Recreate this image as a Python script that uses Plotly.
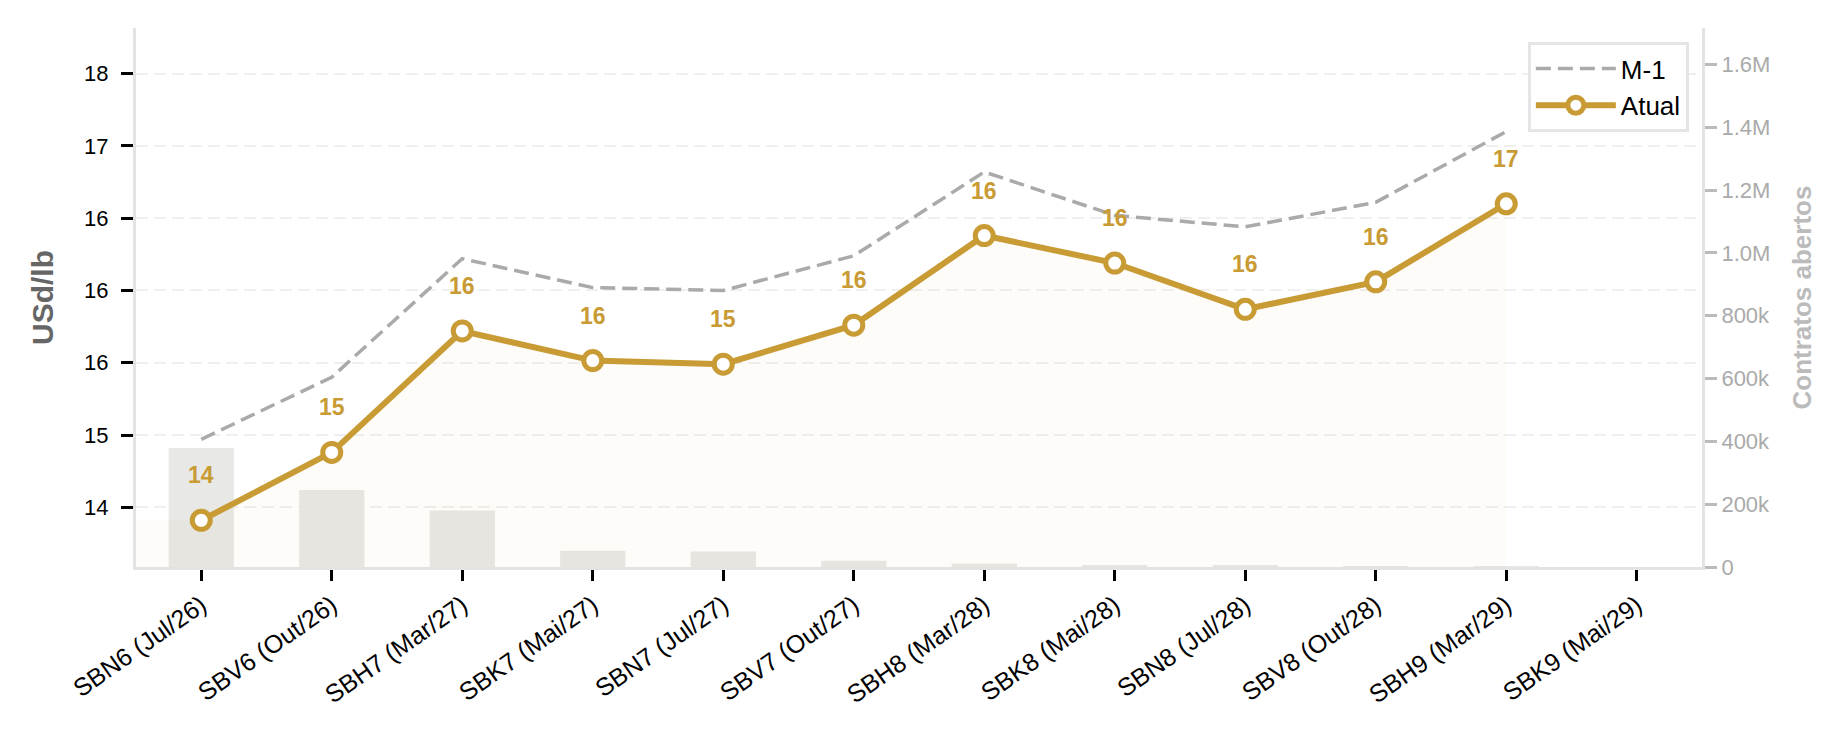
import plotly.graph_objects as go

# ---------------- data ----------------
categories = ["SBN6 (Jul/26)", "SBV6 (Out/26)", "SBH7 (Mar/27)", "SBK7 (Mai/27)",
              "SBN7 (Jul/27)", "SBV7 (Out/27)", "SBH8 (Mar/28)", "SBK8 (Mai/28)",
              "SBN8 (Jul/28)", "SBV8 (Out/28)", "SBH9 (Mar/29)", "SBK9 (Mai/29)"]
atual = [14.41, 14.88, 15.72, 15.515, 15.49, 15.76, 16.38, 16.19, 15.87, 16.06, 16.60]
m1 = [14.97, 15.40, 16.22, 16.02, 16.00, 16.24, 16.82, 16.52, 16.44, 16.61, 17.10]
open_interest = [379000, 245000, 180000, 51500, 49000, 20000, 10000, 4500, 4000, 1000, 300, 0]
price_ticks = [14.5, 15.0, 15.5, 16.0, 16.5, 17.0, 17.5]
oi_ticks = [0, 200000, 400000, 600000, 800000, 1000000, 1200000, 1400000, 1600000]
oi_tick_labels = ["0", "200k", "400k", "600k", "800k", "1.0M", "1.2M", "1.4M", "1.6M"]

# ---------------- style ----------------
GOLD = "#C89B34"
GREY_LINE = "#AAAAAA"
SPINE = "#E3E3E3"
FONT = "Liberation Sans"
x_range = [-0.5, len(categories) - 0.5]
price_range = [14.087, 17.816]
oi_range = [0, 1716000]

x_idx = list(range(len(categories)))
x_line = x_idx[:len(atual)]

fig = go.Figure()

# open interest bars (primary y, right side)
fig.add_trace(go.Bar(
    x=x_idx, y=open_interest, yaxis="y", width=0.5,
    marker=dict(color="#E8E8E6", line=dict(width=0)),
    showlegend=False, hoverinfo="skip"))

# light fill under current curve
fig.add_trace(go.Scatter(
    x=[x_range[0]] + x_line, y=[atual[0]] + atual, yaxis="y2",
    mode="lines", line=dict(width=0), fill="tozeroy",
    fillcolor="rgba(200,155,52,0.03)", showlegend=False, hoverinfo="skip"))

fig.add_trace(go.Scatter(
    x=x_line, y=m1, yaxis="y2", name="M-1", mode="lines",
    line=dict(color=GREY_LINE, width=3.5, dash="15px,7px")))

fig.add_trace(go.Scatter(
    x=x_line, y=atual, yaxis="y2", name="Atual", mode="lines+markers",
    line=dict(color=GOLD, width=6),
    marker=dict(symbol="circle", size=18, color="white", line=dict(color=GOLD, width=5))))

for xi, v in zip(x_line, atual):
    fig.add_annotation(x=xi, y=v, xref="x", yref="y2", text=f"{v:.0f}",
                       showarrow=False, yshift=45,
                       font=dict(family=FONT, size=23, color=GOLD, weight="bold"))

fig.update_layout(
    width=1846, height=734,
    margin=dict(l=135.5, r=143.5, t=27.5, b=166.8),
    paper_bgcolor="white", plot_bgcolor="white",
    font=dict(family=FONT, color="black"),
    showlegend=True,
    legend=dict(x=0.9916, xanchor="right", y=0.974, yanchor="top",
                bgcolor="white", bordercolor="#E5E5E5", borderwidth=3,
                itemwidth=80,
                font=dict(family=FONT, size=26, color="black"), tracegroupgap=0),
    xaxis=dict(range=x_range, tickmode="array", tickvals=x_idx, ticktext=categories,
               tickangle=-35, ticks="outside", ticklen=11, tickwidth=3, tickcolor="black",
               showline=True, linecolor=SPINE, linewidth=3, showgrid=False, zeroline=False,
               tickfont=dict(family=FONT, size=25, color="black")),
    yaxis=dict(side="right", range=oi_range, tickmode="array", tickvals=oi_ticks,
               ticktext=oi_tick_labels, ticks="outside", ticklen=12, tickwidth=3,
               tickcolor="#BBBBBB", showline=True, linecolor=SPINE, linewidth=3,
               showgrid=False, zeroline=False,
               tickfont=dict(family=FONT, size=22, color="#AAAAAA"),
               title=dict(text="Contratos abertos", standoff=24,
                          font=dict(family=FONT, size=26, color="#BBBBBB", weight="bold"))),
    yaxis2=dict(side="left", overlaying="y", range=price_range, tickmode="array",
                tickvals=price_ticks, ticktext=[f"{t:.0f}" for t in price_ticks],
                ticks="outside", ticklen=12, tickwidth=3, tickcolor="black",
                showline=True, linecolor=SPINE, linewidth=3, zeroline=False,
                showgrid=True, gridcolor="#EFEFEF", gridwidth=2, griddash="12px,6px",
                tickfont=dict(family=FONT, size=22, color="black"),
                ticklabelstandoff=8,
                title=dict(text="USd/lb", standoff=22,
                           font=dict(family=FONT, size=30, color="#666666", weight="bold"))),
)

fig.write_html("out.html")
